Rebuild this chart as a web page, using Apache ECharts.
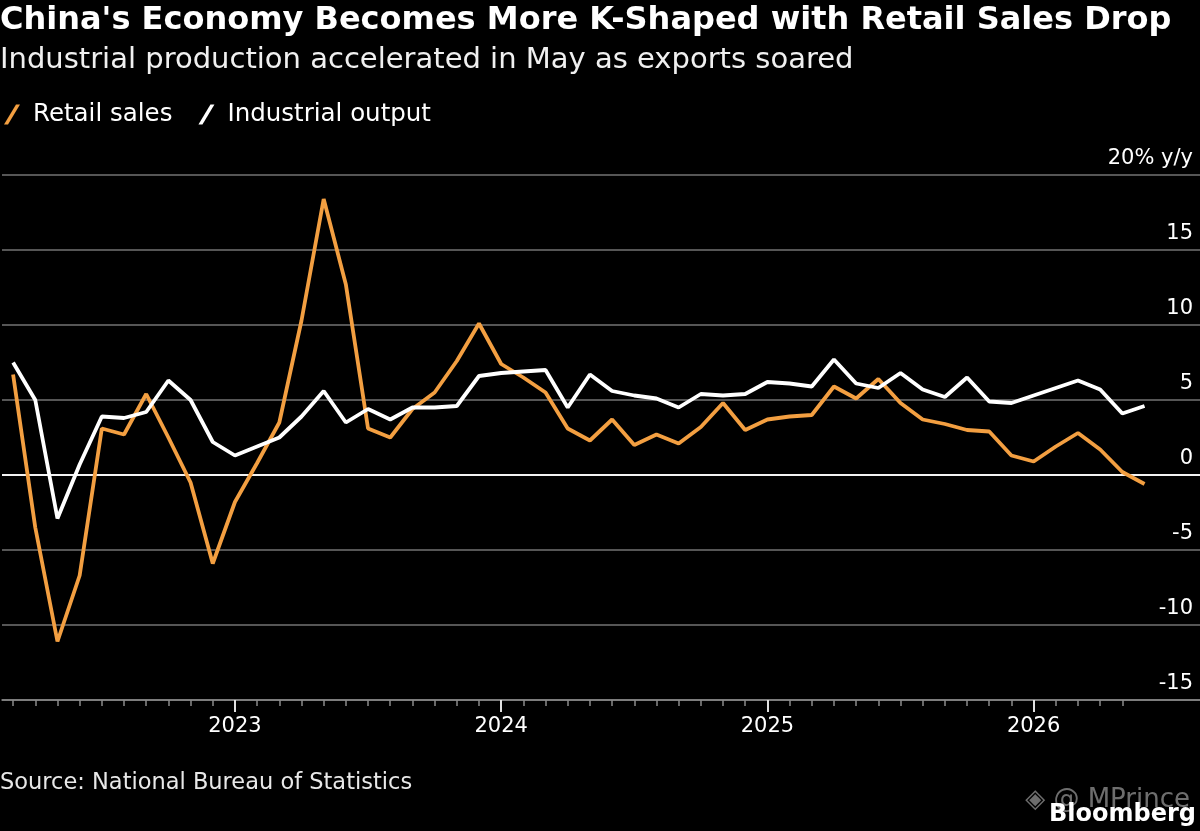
<!DOCTYPE html>
<html>
<head>
<meta charset="utf-8">
<script src="https://cdn.jsdelivr.net/npm/echarts@6/dist/echarts.min.js"></script>
<style>
  html, body { margin: 0; padding: 0; background: #000; }
  #chart { width: 1200px; height: 831px; }
</style>
</head>
<body>
<div id="chart"></div>
<script>
// months, plotted at month end (Feb 2022 .. Jul 2026, last two without data)
const months = [
  '2022-02', '2022-03', '2022-04', '2022-05', '2022-06', '2022-07', '2022-08', '2022-09', '2022-10', '2022-11', '2022-12',
  '2023-01', '2023-02', '2023-03', '2023-04', '2023-05', '2023-06', '2023-07', '2023-08', '2023-09', '2023-10', '2023-11', '2023-12',
  '2024-01', '2024-02', '2024-03', '2024-04', '2024-05', '2024-06', '2024-07', '2024-08', '2024-09', '2024-10', '2024-11', '2024-12',
  '2025-01', '2025-02', '2025-03', '2025-04', '2025-05', '2025-06', '2025-07', '2025-08', '2025-09', '2025-10', '2025-11', '2025-12',
  '2026-01', '2026-02', '2026-03', '2026-04', '2026-05', '2026-06', '2026-07'
];

// % y/y
const retailSales = [
  6.7, -3.5, -11.1, -6.7, 3.1, 2.7, 5.4, 2.5, -0.5, -5.9, -1.8,
  0.8, 3.5, 10.3, 18.4, 12.7, 3.1, 2.5, 4.4, 5.5, 7.6, 10.1, 7.4,
  6.5, 5.5, 3.1, 2.3, 3.7, 2.0, 2.7, 2.1, 3.2, 4.8, 3.0, 3.7,
  3.9, 4.0, 5.9, 5.1, 6.4, 4.8, 3.7, 3.4, 3.0, 2.9, 1.3, 0.9,
  1.9, 2.8, 1.7, 0.2, -0.6
];

const industrialOutput = [
  7.5, 5.0, -2.9, 0.7, 3.9, 3.8, 4.2, 6.3, 5.0, 2.2, 1.3,
  1.9, 2.5, 3.9, 5.6, 3.5, 4.4, 3.7, 4.5, 4.5, 4.6, 6.6, 6.8,
  6.9, 7.0, 4.5, 6.7, 5.6, 5.3, 5.1, 4.5, 5.4, 5.3, 5.4, 6.2,
  6.1, 5.9, 7.7, 6.1, 5.8, 6.8, 5.7, 5.2, 6.5, 4.9, 4.8, 5.3,
  5.8, 6.3, 5.7, 4.1, 4.6
];

// year labels sit on the December (year-end) positions
const yearEnds = ['2022-12', '2023-12', '2024-12', '2025-12'];
const yearLabels = ['2023', '2024', '2025', '2026'];
const lastTickMonth = '2026-04';

const ORANGE = '#f39f41';
const WHITE = '#ffffff';
const GRID = '#737373';
const FONT = 'DejaVu Sans';

const chart = echarts.init(document.getElementById('chart'));

const slash = 'path://M0,20 L4,20 L16,0 L12,0 Z';

const option = {
  backgroundColor: '#000',
  animation: false,
  textStyle: { fontFamily: FONT, color: '#fff' },
  title: [
    {
      text: "China's Economy Becomes More K-Shaped with Retail Sales Drop",
      left: 0, top: 5, padding: 0,
      textStyle: { color: '#fff', fontSize: 32, fontWeight: 'bold', fontFamily: FONT }
    },
    {
      text: 'Industrial production accelerated in May as exports soared',
      left: 0, top: 46, padding: 0,
      textStyle: { color: '#f0f0f0', fontSize: 29, fontWeight: 'normal', fontFamily: FONT }
    },
    {
      text: 'Source: National Bureau of Statistics',
      left: 0, top: 772, padding: 0,
      textStyle: { color: '#e8e8e8', fontSize: 22.5, fontWeight: 'normal', fontFamily: FONT }
    }
  ],
  legend: {
    left: 4, top: 102, padding: 0,
    itemGap: 26,
    itemWidth: 16, itemHeight: 20,
    icon: slash,
    textStyle: { color: '#fff', fontSize: 24.5, fontFamily: FONT, padding: [0, 0, 0, 8] },
    data: ['Retail sales', 'Industrial output']
  },
  grid: { left: 2, width: 1200, top: 175, bottom: 131, containLabel: false },
  xAxis: [
    {
      type: 'category',
      data: months,
      boundaryGap: true,
      axisLine: { show: true, onZero: false, lineStyle: { color: '#8a8a8a', width: 1.5 } },
      axisTick: {
        show: true, alignWithLabel: true, length: 6,
        interval: (i, v) => v <= lastTickMonth,
        lineStyle: { color: '#8a8a8a', width: 1.5 }
      },
      axisLabel: { show: false },
      splitLine: { show: false }
    },
    {
      type: 'category',
      data: months,
      boundaryGap: true,
      position: 'bottom',
      axisLine: { show: false, onZero: false },
      axisTick: {
        show: true, alignWithLabel: true, length: 12,
        interval: (i, v) => yearEnds.indexOf(v) >= 0,
        lineStyle: { color: '#e0e0e0', width: 2 }
      },
      axisLabel: {
        show: true,
        interval: (i, v) => yearEnds.indexOf(v) >= 0,
        formatter: v => yearLabels[yearEnds.indexOf(v)] || '',
        color: '#fff', fontSize: 21, fontFamily: FONT, margin: 16
      },
      splitLine: { show: false }
    }
  ],
  yAxis: {
    type: 'value',
    position: 'right',
    min: -15, max: 20, interval: 5,
    axisLine: { show: false },
    axisTick: { show: false },
    axisLabel: {
      inside: true,
      margin: 7,
      verticalAlign: 'bottom',
      padding: [0, 0, 6, 0],
      color: '#fff', fontSize: 21, fontFamily: FONT,
      formatter: v => (v === 20 ? '20% y/y' : String(v))
    },
    splitLine: { show: true, lineStyle: { color: GRID, width: 1.5 } }
  },
  series: [
    {
      name: 'Retail sales',
      type: 'line',
      xAxisIndex: 0,
      data: retailSales,
      symbol: 'none',
      color: ORANGE,
      lineStyle: { color: ORANGE, width: 3.8 },
      z: 3,
      markLine: {
        silent: true,
        symbol: 'none',
        label: { show: false },
        lineStyle: { color: '#f2f2f2', width: 2, type: 'solid' },
        data: [{ yAxis: 0 }],
        z: 1
      }
    },
    {
      name: 'Industrial output',
      type: 'line',
      xAxisIndex: 0,
      data: industrialOutput,
      symbol: 'none',
      color: WHITE,
      lineStyle: { color: WHITE, width: 3.8 },
      z: 4
    }
  ],
  graphic: [
    {
      type: 'text',
      right: 10, top: 787,
      style: { text: '◈ @ MPrince', fill: 'rgba(200,200,200,0.55)', font: '26px "DejaVu Sans"' }
    },
    {
      type: 'text',
      right: 4, top: 803,
      style: { text: 'Bloomberg', fill: '#fff', font: 'bold 24px "DejaVu Sans"' }
    }
  ]
};

chart.setOption(option);
</script>
</body>
</html>
